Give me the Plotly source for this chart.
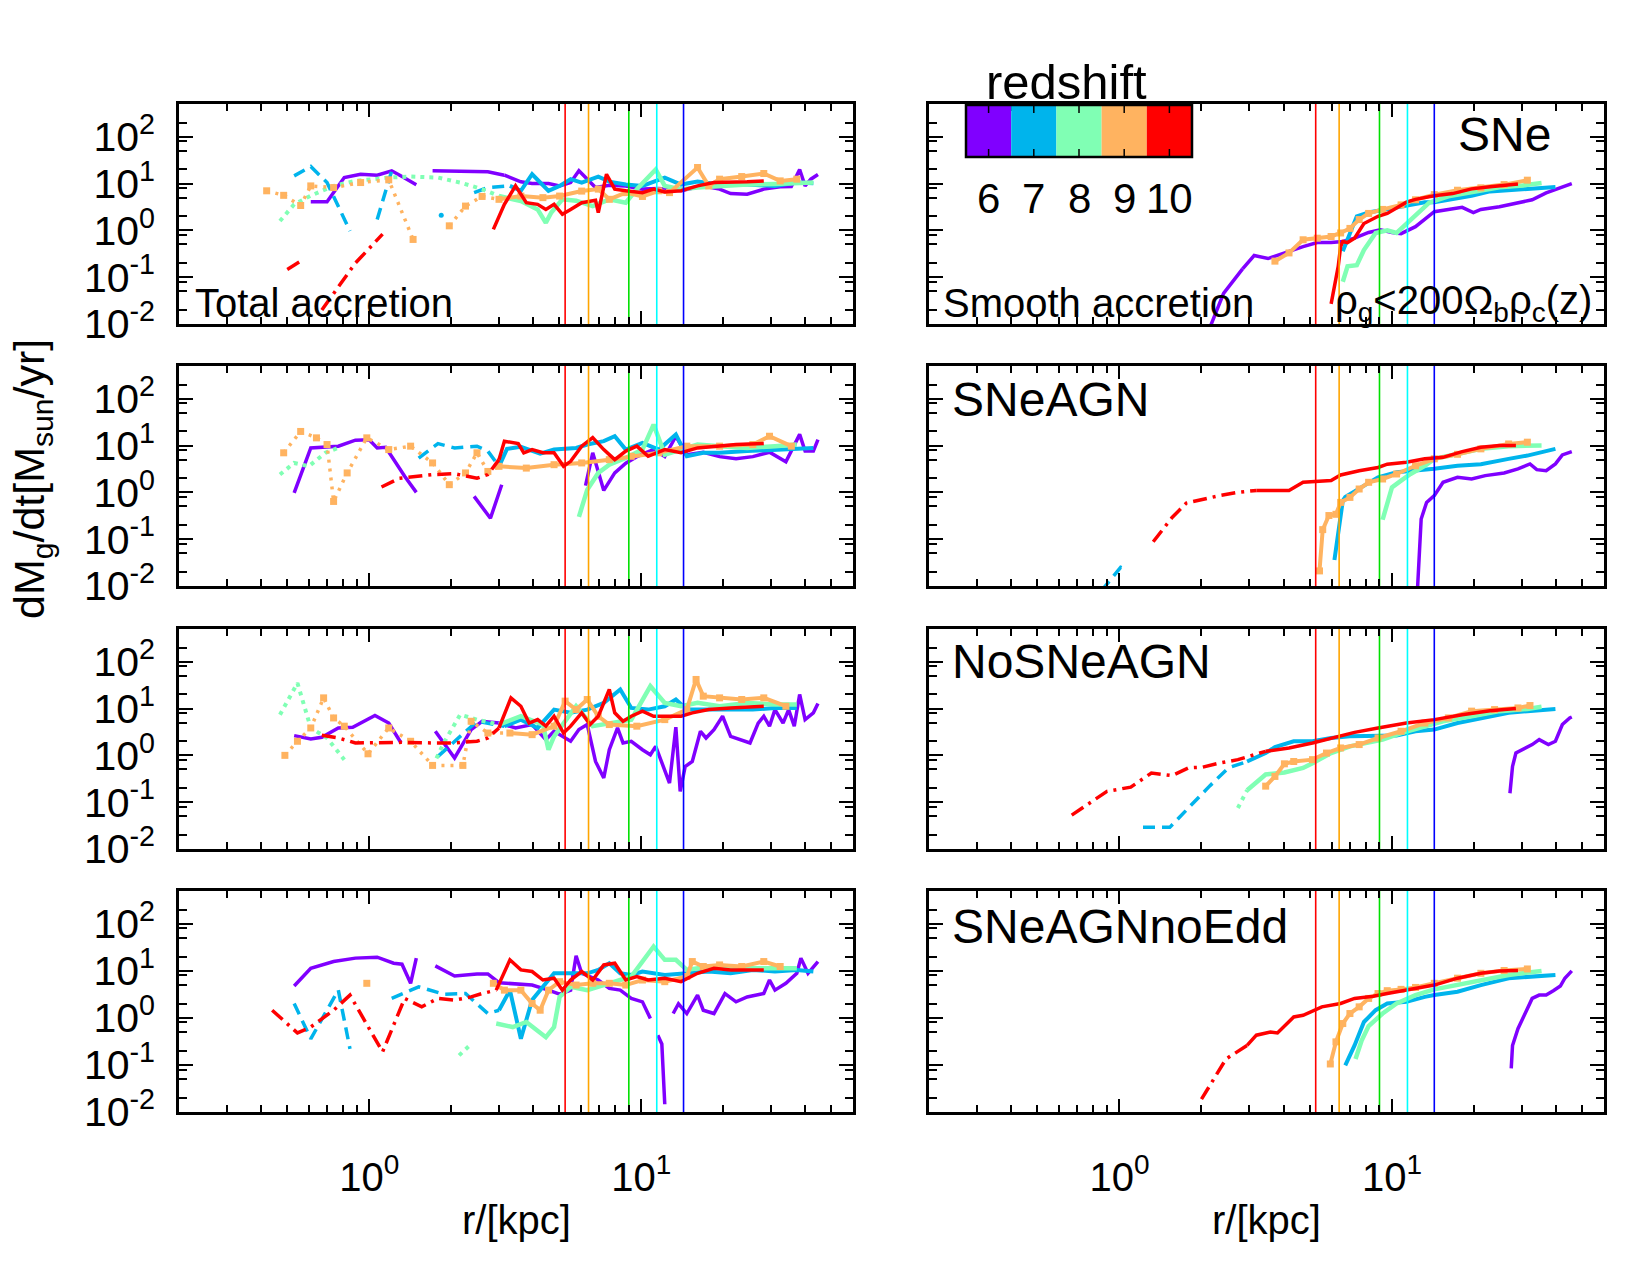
import math
import plotly.graph_objects as go

N = None

# ---------------- data ----------------
redshift_labels = ['6', '7', '8', '9', '10']
z_colors = ['#8000ff', '#00b4ec', '#80ffb4', '#ffb360', '#ff0000']

# virial-type radii marked by vertical lines (kpc), z = 10, 9, 8, 7, 6
vline_r = [5.25, 6.4, 9.0, 11.4, 14.3]
vline_colors = ['#ff0000', '#ffa500', '#00e000', '#00ffff', '#0000ff']

ytick_vals = [0.01, 0.1, 1, 10, 100]
ytick_text = ['10<sup>-2</sup>', '10<sup>-1</sup>', '10<sup>0</sup>', '10<sup>1</sup>', '10<sup>2</sup>']
xtick_vals = [1, 10]
xtick_text = ['10<sup>0</sup>', '10<sup>1</sup>']

# ---- Total accretion, SNe ----
tot_SNe_r6 = [0.61,0.70,0.81,0.93,1.07,1.21,1.32,1.49,N,1.71,2.16,2.73,3.14,3.61,3.97,4.56,5.01,5.50,5.90,6.33,6.79,7.63,8.77,10.1,11.6,14.0,16.9,19.4,21.3,24.5,28.2,32.4,35.6,38.2,40.0,42.0,44.6]
tot_SNe_m6 = [4.1,4.1,13.4,15.8,15.1,18.7,14.1,9.4,N,18.7,18.4,17.8,15.1,10.9,10,10,8.9,10.5,18.7,12.4,8.2,9.2,8.9,7.6,7.8,7.0,8.9,7.6,6.1,5.9,7.6,8.5,8.6,20,8.9,12.4,15.6]
tot_SNe_r7 = [0.53,0.61,0.70,0.85,N,1.07,1.22,N,1.84,N,2.43,2.73,3.29,3.61,3.97,4.56,5.01,5.50,6.04,6.95,7.63,8.77,10.1,12.2,14.0,16.1,19.4,24.5,31.0,37.3,42.9]
tot_SNe_m7 = [14.6,23.1,10.5,0.97,N,1.7,22,N,2.1,N,6.4,8.2,8.9,7.0,15.8,7.0,8.9,12.4,10.5,14,11,9.5,8.9,13.4,9.5,11,9.5,9.5,8.9,10.5,10.2]
tot_SNe_r8 = [0.47,0.53,0.61,0.74,0.89,1.18,1.42,1.79,2.16,2.60,3.0,3.61,4.16,4.46,4.67,5.13,5.76,6.63,7.63,8.77,9.63,11.3,12.2,14.0,16.1,19.4,24.5,31.0,37.3,42.9]
tot_SNe_m8 = [1.58,3.6,5.5,8.9,11.4,13.4,14.1,13.4,10.5,7.6,5.4,4.25,2.8,1.45,2.4,4.6,4.3,3.3,4.6,3.9,7.6,20,8.9,7.6,8.2,8.9,9.5,9.8,10.2,10.5]
tot_SNe_r9 = [0.42,0.485,0.56,0.61,0.74,0.93,1.18,1.45,N,1.97,2.26,2.60,3.0,3.61,4.35,5.01,6.04,6.95,7.63,8.77,10.1,11.6,12.7,16.1,17.7,19.4,23.4,28.2,32.4,37.3]
tot_SNe_m9 = [7.0,5.6,3.4,8.9,8.2,10.5,12,0.64,N,1.25,3.3,5.3,4.6,5.4,5.0,5.4,6.9,7.6,4.6,6.4,5.3,7.0,6.4,22,8.9,12.4,14.1,16.4,11.4,12.4]
tot_SNe_r10 = [0.50,0.56,N,0.67,0.89,1.12,N,2.86,3.14,3.45,3.78,4.16,4.46,4.78,5.13,5.50,6.04,6.79,6.95,7.45,7.99,8.77,10.1,11.1,12.2,14.0,16.1,18.5,21.3,24.5,28.2]
tot_SNe_m10 = [0.146,0.22,N,0.02,0.2,0.83,N,1.05,3.6,8.9,3.9,3.6,2.8,3.6,2.2,2.8,3.9,4.4,2.4,15.8,7.6,7.0,6.4,7.6,6.6,7.0,8.9,10.5,10.5,10.9,11.4]

# ---- Smooth accretion, SNe ----
smo_SNe_r6 = [2.14,2.41,2.83,3.12,3.51,4.03,4.72,5.32,5.98,6.60,7.29,8.21,9.06,10.0,10.8,12.2,13.2,14.3,16.1,18.1,19.9,21.2,24.8,29.0,32.7,36.8,41.5,45.7]
smo_SNe_m6 = [0.008,0.045,0.15,0.29,0.25,0.33,0.45,0.55,0.55,0.58,0.68,0.9,1.03,0.9,0.85,1.2,1.7,2.5,2.8,3.1,2.4,2.8,3.2,3.9,4.5,6.3,8.3,10]
smo_SNe_r7 = [6.60,7.43,8.21,9.61,11.3,13.2,14.3,16.7,19.6,22.9,26.8,31.4,35.4,39.8]
smo_SNe_m7 = [0.36,2.0,2.4,2.8,3.3,4.0,4.0,4.6,5.5,6.8,7.2,7.8,8.1,8.4]
smo_SNe_r8 = [6.60,6.87,7.43,7.89,8.71,9.61,10.4,11.3,12.2,13.7,16.1,19.6,24.8,30.2,35.4]
smo_SNe_m8 = [0.08,0.17,0.18,0.38,0.88,1.0,0.88,1.4,2.2,3.9,5.35,6.6,8.3,9.1,10.3]
smo_SNe_r9 = [3.72,4.19,4.72,5.32,5.98,6.48,7.01,7.58,8.21,9.24,10.8,12.2,14.3,17.4,21.2,25.8,31.4]
smo_SNe_m9 = [0.22,0.33,0.63,0.68,0.74,0.88,1.1,1.7,2.3,2.8,3.5,4.5,5.8,7.2,8.1,9.5,11.8]
smo_SNe_r10 = [5.98,6.35,6.48,6.60,6.87,7.29,7.89,8.89,9.61,11.3,12.2,14.3,16.7,19.6,22.9,29.0]
smo_SNe_m10 = [0.027,0.17,0.45,0.58,0.55,0.68,1.4,2.0,2.3,4.0,4.6,5.5,6.1,7.7,8.5,9.8]

# ---- Total accretion, SNeAGN ----
tot_AGN_r6 = [0.53,0.61,0.77,0.89,1.0,1.07,1.15,1.23,1.35,1.49,N,2.43,2.79,3.07,N,6.24,6.63,7.28,7.99,8.77,9.63,11.1,12.2,13.4,14.7,16.9,19.4,22.3,25.7,29.6,34.0,38.2,40.0,42.9,44.6]
tot_AGN_m6 = [0.97,8.9,9.7,13,13.3,8.9,9.2,5.0,2.2,1.0,N,0.82,0.28,1.45,N,1.4,7.0,1.1,2.6,4.2,5.8,8.2,5.8,15.8,6.4,7.2,5.8,5.2,5.8,7.2,4.5,17.3,7.6,7.6,13.4]
tot_AGN_r7 = [1.52,1.79,2.06,2.49,2.73,3.0,3.21,3.61,4.25,4.78,5.76,6.33,7.28,7.99,8.77,10.1,11.6,13.4,14.7,16.9,19.4,24.5,31.0,39.1,42.9]
tot_AGN_m7 = [5.4,11.0,8.9,9.7,7.6,3.6,8.5,9.4,6.7,8.2,8.9,10.5,12.4,15.8,8.2,11.4,8.2,17.2,5.9,7.0,7.0,7.6,8.2,8.9,8.9]
tot_AGN_r8 = [0.47,0.53,0.60,0.69,0.77,N,5.90,6.33,6.95,7.63,8.77,10.1,11.1,12.2,14.0,16.1,19.4,24.5,31.0,37.3]
tot_AGN_m8 = [2.4,4.25,3.6,7.0,8.9,N,0.3,1.14,2.6,3.9,5.4,8.2,28,6.4,8.2,10.5,9.7,8.9,9.7,10.5]
tot_AGN_r9 = [0.485,0.56,0.64,0.70,0.74,0.83,0.98,1.18,1.42,1.71,1.97,2.26,2.49,2.73,3.0,3.78,4.78,6.04,7.63,9.19,11.6,14.7,19.4,25.7,29.6,35.6]
tot_AGN_m9 = [7.0,20,14.6,10.5,0.64,2.6,14.6,8.2,9.7,4.25,1.46,2.6,7.0,2.8,3.6,3.3,3.9,4.25,5.0,5.9,7.0,9.7,9.7,10.5,15.8,9.7]
tot_AGN_r10 = [1.11,1.29,1.71,2.06,2.49,2.73,3.0,3.14,3.53,3.70,3.97,4.35,4.78,5.18,5.50,6.04,6.63,7.28,7.99,8.77,9.63,10.6,12.2,14.0,16.1,18.5,22.3,28.2]
tot_AGN_m10 = [1.3,2.0,2.4,2.5,2.0,2.4,5.0,12.4,11.0,7.0,8.2,7.0,7.0,3.6,4.6,9.7,14.8,8.2,5.0,7.6,9.7,5.9,8.2,7.0,8.9,9.7,10.5,11.0]

# ---- Smooth accretion, SNeAGN ----
smo_AGN_r6 = [12.4,12.8,13.4,14.3,15.4,17.4,19.6,22.0,25.8,29.0,32.1,34.0,36.8,39.8,42.2,45.7]
smo_AGN_m6 = [0.008,0.27,0.61,0.85,1.64,2.1,1.93,2.28,2.6,3.16,4.05,3.06,2.9,4.05,6.3,7.4]
smo_AGN_r7 = [0.86,1.01,1.07,N,6.15,6.35,6.60,6.74,7.58,8.89,10.4,12.2,14.3,17.4,21.2,26.8,31.4,39.8]
smo_AGN_m7 = [0.008,0.025,0.022,N,0.036,0.12,0.66,0.8,1.18,2.1,2.7,2.9,3.2,3.7,4.0,5.2,6.1,8.5]
smo_AGN_r8 = [9.24,9.61,10.0,10.8,11.7,13.2,14.3,16.7,21.2,26.8,35.4]
smo_AGN_m8 = [0.26,0.61,1.28,1.78,2.47,3.7,5.2,6.3,8.5,9.7,10]
smo_AGN_r9 = [5.42,5.57,5.87,6.23,6.48,7.01,7.58,8.21,9.24,10.4,12.2,14.3,17.4,21.2,26.8,31.4]
smo_AGN_m9 = [0.021,0.16,0.32,0.34,0.61,0.78,1.18,1.64,1.93,2.47,3.7,5.2,6.5,8.5,10.8,11.8]
smo_AGN_r10 = [1.33,1.56,1.76,1.98,2.32,2.72,3.18,4.19,4.72,5.98,6.48,7.58,8.89,9.61,11.3,13.2,15.4,18.1,21.2,24.8,28.5]
smo_AGN_m10 = [0.088,0.29,0.59,0.7,0.85,1.0,1.1,1.1,1.64,1.8,2.35,2.9,3.4,4.0,4.4,5.2,5.6,7.4,9.2,10,10]

# ---- Total accretion, NoSNeAGN ----
tot_NoS_r6 = [0.53,0.61,0.67,0.77,0.87,1.05,1.18,1.31,N,1.75,2.06,2.37,2.60,3.0,3.45,3.97,4.46,4.78,5.13,5.50,5.90,6.33,6.79,7.28,7.63,8.18,8.57,9.19,10.1,10.8,11.3,12.2,12.7,13.4,13.9,14.5,15.4,16.5,17.3,18.5,19.9,21.3,23.4,25.1,26.9,28.2,29.6,31.0,33.2,34.8,36.5,38.2,40.0,42.9,44.6]
tot_NoS_m6 = [2.64,2.24,2.43,3.85,3.98,7.1,4.9,1.84,N,3.27,0.88,3.55,5.35,4.9,3.85,4.55,2.17,3.27,2.55,2.0,3.55,4.55,0.74,0.33,1.32,3.85,1.84,2.0,1.32,1.03,1.56,0.45,0.256,4.0,0.17,0.58,0.74,3.27,2.35,3.55,6.85,2.55,2.17,1.84,4.9,6.85,4.2,9.5,4.9,9.5,4.2,20,5.8,8.1,12.8]
tot_NoS_r7 = [1.79,2.16,2.49,3.14,3.61,4.16,4.78,5.50,6.33,7.28,8.37,9.19,10.6,12.2,13.4,14.7,17.7,21.3,25.7,31.0,37.3]
tot_NoS_m7 = [0.95,2.55,5.35,4.2,5.8,3.85,9.5,8.1,9.5,13.2,25.5,10.3,9.5,11.2,15.6,9.5,9.5,9.5,9.5,10.3,10.3]
tot_NoS_r8 = [0.47,0.545,0.61,0.70,0.81,N,1.71,1.88,2.16,2.49,3.0,3.61,4.35,4.56,4.78,5.76,6.63,7.63,9.19,10.8,12.2,14.0,16.1,19.4,24.5,31.0,37.3]
tot_NoS_m8 = [7.4,35,3.85,2.35,0.81,N,0.58,1.84,7.4,5.8,4.55,6.85,4.55,1.32,2.55,11.2,4.2,4.9,5.8,30,13.2,11.2,13.2,11.2,13.2,12.2,12.2]
tot_NoS_r9 = [0.49,0.545,0.61,0.68,0.74,0.81,0.99,1.18,1.42,1.71,2.21,2.37,2.73,3.29,3.97,4.78,5.25,5.76,6.33,6.95,7.63,9.63,12.2,14.7,15.9,16.9,19.4,23.4,28.2,34.0]
tot_NoS_m9 = [1.0,2.0,3.85,16.9,6.3,4.2,1.08,3.85,2.0,0.61,0.61,5.35,3.0,3.0,2.77,4.2,14.4,9.5,15.6,6.85,4.55,4.2,5.8,9.5,41.8,18.4,16.9,15.6,16.9,11.2]
tot_NoS_r10 = [0.67,0.77,0.89,1.35,1.71,2.06,2.49,2.73,3.0,3.32,3.61,3.87,4.16,4.46,4.78,5.18,5.50,6.04,6.48,6.95,7.63,7.99,8.57,9.19,10.1,11.1,12.2,14.0,15.4,17.7,21.3,28.2]
tot_NoS_m10 = [2.68,2.35,1.84,1.9,1.84,1.84,2.0,2.35,3.85,16.9,11.2,4.9,5.8,4.2,6.85,3.0,4.2,8.1,4.55,6.85,25.5,8.1,5.35,6.85,8.8,6.85,6.85,6.85,8.1,9.5,10.3,11.2]

# ---- Smooth accretion, NoSNeAGN ----
smo_NoS_r6 = [27.1,27.7,28.5,30.2,32.7,34.7,37.5,39.8,42.2,44.9,45.7]
smo_NoS_m6 = [0.155,0.58,1.12,1.32,1.7,2.17,1.7,2.0,4.55,6.3,6.6]
smo_NoS_r7 = [1.22,1.53,1.79,2.14,2.51,2.94,3.44,3.72,4.36,5.11,5.98,7.01,8.89,10.4,12.2,14.3,17.4,21.2,26.8,31.4,39.8]
smo_NoS_m7 = [0.029,0.029,0.075,0.22,0.54,0.74,1.12,1.5,2.0,2.0,2.35,2.55,2.64,2.64,3.27,3.55,4.9,6.3,8.1,8.8,9.8]
smo_NoS_r8 = [2.72,2.94,3.44,4.03,4.72,5.11,5.98,7.01,8.21,9.24,10.8,13.2,15.4,19.6,24.8,31.4,35.4]
smo_NoS_m8 = [0.075,0.18,0.39,0.43,0.54,0.68,1.12,1.56,1.84,2.17,3.0,4.2,5.35,6.85,8.8,9.8,10.9]
smo_NoS_r9 = [3.44,3.72,4.03,4.36,5.11,5.75,6.48,7.58,8.89,10.8,13.2,16.1,19.6,23.8,29.0,32.1]
smo_NoS_m9 = [0.22,0.355,0.66,0.74,0.81,1.12,1.44,1.7,2.35,3.27,4.9,6.3,8.8,9.5,10.3,11.6]
smo_NoS_r10 = [0.668,0.77,0.90,1.10,1.31,1.56,1.79,2.02,2.32,2.72,3.44,4.19,5.11,5.98,7.29,8.89,11.3,14.3,18.1,22.9,28.5]
smo_NoS_m10 = [0.053,0.094,0.17,0.21,0.42,0.37,0.54,0.56,0.68,0.81,1.22,1.44,1.84,2.35,3.1,3.85,4.9,5.8,7.4,9.0,10]

# ---- Total accretion, SNeAGNnoEdd ----
tot_Edd_r6 = [0.53,0.61,0.74,0.89,1.07,1.23,1.32,1.42,1.49,N,1.75,2.06,2.49,2.73,3.0,3.45,3.97,4.56,5.01,5.50,5.76,6.04,6.95,7.63,8.37,9.19,10.1,10.8,N,11.5,11.9,12.2,N,13.1,13.7,14.7,16.1,16.9,18.5,20.3,22.3,24.5,28.2,29.6,31.0,34.0,37.3,38.6,41.0,44.6]
tot_Edd_m6 = [4.77,11.4,15.8,18.7,19.6,14.6,13.9,5.45,18.7,N,12.8,7.8,8.6,8.6,5.6,5.2,5.0,3.9,3.2,3.9,21,8.9,6.4,4.25,3.9,2.6,2.2,0.97,N,0.43,0.28,0.0146,N,1.24,2.0,1.24,3.06,1.46,1.24,3.3,2.2,2.8,3.3,6.4,3.9,5.45,8.9,18.7,8.9,15.8]
tot_Edd_r7 = [0.53,0.61,0.77,0.85,N,1.21,1.52,1.88,2.26,2.73,3.0,3.29,3.61,3.97,4.78,6.33,6.95,7.63,8.37,9.19,10.1,12.2,14.7,17.7,21.3,25.7,31.0,37.3,42.9]
tot_Edd_m7 = [2.03,0.36,3.9,0.22,N,2.6,4.6,3.2,3.3,1.24,1.46,3.9,0.36,2.4,8.9,8.9,10.5,14.6,8.9,8.2,9.7,8.2,8.9,9.7,8.9,10.5,9.7,10.5,9.7]
tot_Edd_r8 = [2.14,2.37,N,2.93,3.37,3.78,4.16,4.46,4.78,5.01,5.50,6.33,7.63,9.19,11.1,12.2,13.4,14.7,17.7,21.3,25.7,31.0,37.3]
tot_Edd_m8 = [0.16,0.28,N,0.76,0.64,0.82,0.55,0.39,0.64,2.8,4.6,3.9,5.45,7.6,33,17.2,17.2,10.5,12.4,11.4,11.4,11.4,11.4]
tot_Edd_r9 = [0.98,N,2.86,3.14,3.61,3.97,4.25,4.56,5.01,5.76,6.63,7.63,8.77,10.1,12.2,14.7,15.4,16.9,19.4,23.4,28.2,32.4]
tot_Edd_m9 = [5.45,N,5.45,3.9,3.9,2.03,1.46,3.9,5.9,5.0,5.45,5.45,5.0,6.4,5.9,7.6,15.8,12.4,13.4,12.4,15.8,12.4]
tot_Edd_r10 = [0.44,0.545,0.61,0.74,0.85,1.12,1.35,1.56,1.79,2.06,2.37,2.60,2.93,3.29,3.61,3.97,4.35,4.78,5.13,5.50,6.04,6.63,7.28,7.99,8.77,9.63,10.6,12.2,14.0,16.1,18.5,21.3,24.5,28.2]
tot_Edd_m10 = [1.46,0.48,0.64,1.46,3.06,0.19,2.6,1.72,2.6,2.4,2.8,3.3,3.9,17.2,10.5,9.7,6.4,7.0,3.9,6.4,9.7,6.4,13.4,14.6,6.4,7.6,6.4,7.0,5.9,8.9,11.4,10.5,10.5,10.5]

# ---- Smooth accretion, SNeAGNnoEdd ----
smo_Edd_r6 = [27.4,27.7,29.0,30.2,31.4,32.7,34.7,36.8,39.1,41.5,43.1,45.7]
smo_Edd_m6 = [0.085,0.26,0.59,0.97,1.46,2.6,3.06,3.06,3.8,4.77,7.0,10]
smo_Edd_r7 = [6.74,7.29,7.89,8.71,9.61,11.3,13.2,14.3,17.4,21.2,26.8,31.4,39.8]
smo_Edd_m7 = [0.098,0.26,0.82,1.46,2.03,2.2,2.8,3.06,3.6,5.0,7.0,7.6,8.2]
smo_Edd_r8 = [7.35,7.74,8.21,9.24,10.4,12.2,14.3,17.4,21.2,26.8,35.4]
smo_Edd_m8 = [0.134,0.33,0.67,1.24,2.03,3.06,4.05,5.0,6.4,8.2,10]
smo_Edd_r9 = [5.94,6.23,6.60,7.01,7.58,8.21,8.89,9.61,10.8,12.2,14.3,17.4,21.2,25.8,31.4]
smo_Edd_m9 = [0.105,0.31,0.76,1.24,1.72,2.6,3.3,3.8,4.05,4.45,5.45,7.0,8.9,10.2,11.0]
smo_Edd_r10 = [2.0,2.46,2.94,3.18,3.58,3.80,4.36,4.72,5.53,5.98,6.48,7.29,8.54,9.61,11.7,14.3,17.4,21.2,24.8,29.0]
smo_Edd_m10 = [0.0187,0.134,0.26,0.43,0.5,0.48,1.05,1.14,1.72,1.87,2.03,2.6,2.9,3.3,4.05,5.0,7.0,8.9,10,10.2]

panel_series = {
    1: [(tot_SNe_r6, tot_SNe_m6), (tot_SNe_r7, tot_SNe_m7), (tot_SNe_r8, tot_SNe_m8), (tot_SNe_r9, tot_SNe_m9), (tot_SNe_r10, tot_SNe_m10)],
    2: [(smo_SNe_r6, smo_SNe_m6), (smo_SNe_r7, smo_SNe_m7), (smo_SNe_r8, smo_SNe_m8), (smo_SNe_r9, smo_SNe_m9), (smo_SNe_r10, smo_SNe_m10)],
    3: [(tot_AGN_r6, tot_AGN_m6), (tot_AGN_r7, tot_AGN_m7), (tot_AGN_r8, tot_AGN_m8), (tot_AGN_r9, tot_AGN_m9), (tot_AGN_r10, tot_AGN_m10)],
    4: [(smo_AGN_r6, smo_AGN_m6), (smo_AGN_r7, smo_AGN_m7), (smo_AGN_r8, smo_AGN_m8), (smo_AGN_r9, smo_AGN_m9), (smo_AGN_r10, smo_AGN_m10)],
    5: [(tot_NoS_r6, tot_NoS_m6), (tot_NoS_r7, tot_NoS_m7), (tot_NoS_r8, tot_NoS_m8), (tot_NoS_r9, tot_NoS_m9), (tot_NoS_r10, tot_NoS_m10)],
    6: [(smo_NoS_r6, smo_NoS_m6), (smo_NoS_r7, smo_NoS_m7), (smo_NoS_r8, smo_NoS_m8), (smo_NoS_r9, smo_NoS_m9), (smo_NoS_r10, smo_NoS_m10)],
    7: [(tot_Edd_r6, tot_Edd_m6), (tot_Edd_r7, tot_Edd_m7), (tot_Edd_r8, tot_Edd_m8), (tot_Edd_r9, tot_Edd_m9), (tot_Edd_r10, tot_Edd_m10)],
    8: [(smo_Edd_r6, smo_Edd_m6), (smo_Edd_r7, smo_Edd_m7), (smo_Edd_r8, smo_Edd_m8), (smo_Edd_r9, smo_Edd_m9), (smo_Edd_r10, smo_Edd_m10)],
}

# ---------------- styling / layout ----------------
W, H = 1650, 1275
FONT = 'Liberation Sans, Arial, sans-serif'
R_SOLID = 2.8  # beyond this radius the sampling is dense -> dashes merge into a solid line

def PX(x):
    return x / W

def PY(y):
    return 1 - y / H

col_px = {1: (179, 853), 2: (929, 1604)}
row_px = {1: (104, 324), 2: (366, 586), 3: (629, 849), 4: (891, 1112)}

styles = [
    dict(dash='solid', width=3.5, dense_width=3.5),
    dict(dash='12px,7px', width=3.5, dense_width=4.0),
    dict(dash='4px,5px', width=4.0, dense_width=4.5),
    dict(dash='3px,6px', width=3.5, dense_width=4.0),
    dict(dash='14px,6px,3px,6px', width=3.5, dense_width=3.5),
]


def split_runs(r, m, thr):
    sx, sy, dx, dy = [], [], [], []
    prev = None
    for i in range(len(r) - 1):
        a, b = r[i], r[i + 1]
        if a is None or b is None:
            prev = None
            continue
        cls = 'd' if min(a, b) >= thr else 's'
        X, Y = (dx, dy) if cls == 'd' else (sx, sy)
        if prev != cls:
            if X:
                X.append(None)
                Y.append(None)
            X.append(a)
            Y.append(m[i])
        X.append(b)
        Y.append(m[i + 1])
        prev = cls
    return sx, sy, dx, dy


def isolated(r, m):
    xs, ys = [], []
    n = len(r)
    for i in range(n):
        if r[i] is None:
            continue
        left = (i == 0) or (r[i - 1] is None)
        right = (i == n - 1) or (r[i + 1] is None)
        if left and right:
            xs.append(r[i])
            ys.append(m[i])
    return xs, ys


fig = go.Figure()

for k in range(1, 9):
    xname = 'x' if k == 1 else f'x{k}'
    yname = 'y' if k == 1 else f'y{k}'
    for j, (r, m) in enumerate(panel_series[k]):
        assert len(r) == len(m), (k, j, len(r), len(m))
        st = styles[j]
        col = z_colors[j]
        sx, sy, dx, dy = split_runs(r, m, R_SOLID)
        if sx:
            fig.add_trace(go.Scatter(x=sx, y=sy, mode='lines', xaxis=xname, yaxis=yname,
                                     line=dict(color=col, width=st['width'], dash=st['dash']),
                                     showlegend=False, hoverinfo='skip'))
        if dx:
            fig.add_trace(go.Scatter(x=dx, y=dy, mode='lines', xaxis=xname, yaxis=yname,
                                     line=dict(color=col, width=st['dense_width'], dash='solid'),
                                     showlegend=False, hoverinfo='skip'))
        if j == 3:
            fig.add_trace(go.Scatter(x=r, y=m, mode='markers', xaxis=xname, yaxis=yname,
                                     marker=dict(symbol='square', size=7, color=col, line=dict(width=0)),
                                     showlegend=False, hoverinfo='skip'))
        else:
            ix, iy = isolated(r, m)
            if ix:
                fig.add_trace(go.Scatter(x=ix, y=iy, mode='markers', xaxis=xname, yaxis=yname,
                                         marker=dict(symbol='circle', size=5, color=col),
                                         showlegend=False, hoverinfo='skip'))
    # vertical reference lines
    for v, vc in zip(vline_r, vline_colors):
        fig.add_trace(go.Scatter(x=[v, v], y=[1e-4, 1e4], mode='lines', xaxis=xname, yaxis=yname,
                                 line=dict(color=vc, width=1.6), showlegend=False, hoverinfo='skip'))

x_minor = [m * 10 ** e for e in (-1, 0, 1) for m in range(2, 10) if 0.2 <= m * 10 ** e < 59]
y_minor = [m * 10 ** e for e in range(-2, 3) for m in (2, 5, 8) if m * 10 ** e < 450]

layout = dict(width=W, height=H, autosize=False,
              margin=dict(l=0, r=0, t=0, b=0, pad=0, autoexpand=False),
              paper_bgcolor='white', plot_bgcolor='white', showlegend=False)

for row in range(1, 5):
    for c in (1, 2):
        k = (row - 1) * 2 + c
        xkey = 'xaxis' if k == 1 else f'xaxis{k}'
        ykey = 'yaxis' if k == 1 else f'yaxis{k}'
        x0, x1 = col_px[c]
        yt, yb = row_px[row]
        layout[xkey] = dict(
            type='log', range=[math.log10(0.2), math.log10(60)],
            domain=[PX(x0), PX(x1)], anchor='y' if k == 1 else f'y{k}',
            showline=True, linecolor='black', linewidth=2.5, mirror='allticks',
            ticks='inside', ticklen=13, tickwidth=2, tickcolor='black',
            tickmode='array', tickvals=xtick_vals, ticktext=xtick_text,
            showticklabels=(row == 4), ticklabelstandoff=28, automargin=False,
            tickfont=dict(family=FONT, size=40, color='black'),
            minor=dict(tickmode='array', tickvals=x_minor, ticks='inside', ticklen=7,
                       tickwidth=1.5, tickcolor='black', showgrid=False),
            showgrid=False, zeroline=False,
        )
        layout[ykey] = dict(
            type='log', range=[-2, math.log10(500)],
            domain=[PY(yb), PY(yt)], anchor='x' if k == 1 else f'x{k}',
            showline=True, linecolor='black', linewidth=2.5, mirror='allticks',
            ticks='inside', ticklen=14, tickwidth=2, tickcolor='black',
            tickmode='array', tickvals=ytick_vals, ticktext=ytick_text,
            showticklabels=(c == 1), ticklabelstandoff=13, automargin=False,
            tickfont=dict(family=FONT, size=41, color='black'),
            minor=dict(tickmode='array', tickvals=y_minor, ticks='inside', ticklen=8,
                       tickwidth=1.5, tickcolor='black', showgrid=False),
            showgrid=False, zeroline=False,
        )

fig.update_layout(**layout)

ann = []

def add_text(text, x, y, size, xanchor='center', yanchor='middle', angle=0):
    ann.append(dict(text=text, x=PX(x), y=PY(y), xref='paper', yref='paper',
                    xanchor=xanchor, yanchor=yanchor, showarrow=False, textangle=angle,
                    font=dict(family=FONT, size=size, color='black')))

add_text('Total accretion', 193, 327, 40, 'left', 'bottom')
add_text('Smooth accretion', 941, 327, 40, 'left', 'bottom')
add_text('ρ<sub>g</sub>&lt;200Ω<sub>b</sub>ρ<sub>c</sub>(z)', 1594, 330, 40, 'right', 'bottom')
add_text('SNe', 1553, 135, 48, 'right', 'middle')
add_text('SNeAGN', 950, 399, 48, 'left', 'middle')
add_text('NoSNeAGN', 950, 662, 48, 'left', 'middle')
add_text('SNeAGNnoEdd', 950, 926, 48, 'left', 'middle')
add_text('dM<sub>g</sub>/dt[M<sub>sun</sub>/yr]', 32, 479, 43, 'center', 'middle', -90)
add_text('r/[kpc]', 516, 1220, 40)
add_text('r/[kpc]', 1266, 1220, 40)

# redshift colour key
kx0, kx1, ky0, ky1 = 966, 1192, 105, 157
bw = (kx1 - kx0) / len(z_colors)
shapes = []
for i, (lab, zc) in enumerate(zip(redshift_labels, z_colors)):
    bx0 = kx0 + i * bw
    shapes.append(dict(type='rect', xref='paper', yref='paper', x0=PX(bx0), x1=PX(bx0 + bw),
                       y0=PY(ky1), y1=PY(ky0), fillcolor=zc, line=dict(width=0), layer='above'))
    cx = bx0 + bw / 2
    shapes.append(dict(type='line', xref='paper', yref='paper', x0=PX(cx), x1=PX(cx),
                       y0=PY(ky0), y1=PY(ky0 + 8), line=dict(color='black', width=1.5), layer='above'))
    shapes.append(dict(type='line', xref='paper', yref='paper', x0=PX(cx), x1=PX(cx),
                       y0=PY(ky1), y1=PY(ky1 - 8), line=dict(color='black', width=1.5), layer='above'))
    add_text(lab, cx, 199, 42)
shapes.append(dict(type='rect', xref='paper', yref='paper', x0=PX(kx0), x1=PX(kx1),
                   y0=PY(ky1), y1=PY(ky0), line=dict(color='black', width=2.5), layer='above'))
add_text('redshift', 1066, 111, 49, 'center', 'bottom')

fig.update_layout(annotations=ann, shapes=shapes)

fig.write_html('out.html', config={'displayModeBar': False, 'responsive': False})
